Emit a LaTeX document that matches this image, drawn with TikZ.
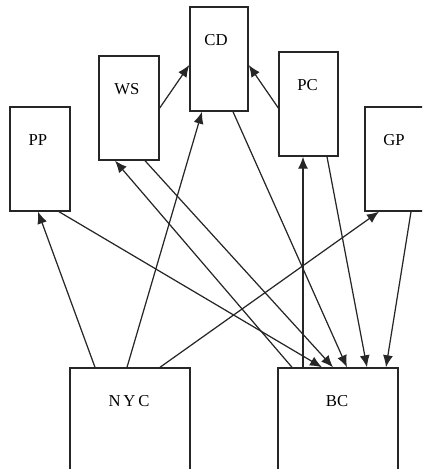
\documentclass[tikz,border=0pt]{standalone}
\usepackage{fontspec}
\setmainfont{Liberation Serif}
\usetikzlibrary{arrows.meta,calc}

\begin{document}
\begin{tikzpicture}[x=0.02cm,y=-0.02cm]
% Styles (MODIFIABLES)
\tikzstyle{fleche}=[-{Latex[length=2.4mm,width=2mm]},line width=0.7pt,draw=black!85]
\tikzstyle{boite}=[draw=black!85,line width=0.8pt,rectangle,inner sep=0pt,minimum width=60*0.02cm,minimum height=104*0.02cm]
\tikzstyle{large}=[minimum width=120*0.02cm]
\tikzstyle{etiquette}=[font=\fontsize{9.5}{11}\selectfont,inner sep=0pt]
% Dimensions (MODIFIABLES)
\def\DecalageEtiquette{34}
% Cadre
\useasboundingbox (0,0) rectangle (422,469);
\clip (0,0) rectangle (422,469);
% Noeuds (MODIFIABLES : Styles et positions)
\node[boite] (PP) at (40,159) {};
\node[boite] (WS) at (129,108) {};
\node[boite,minimum width=58*0.02cm] (CD) at (219,59) {};
\node[boite,minimum width=59*0.02cm] (PC) at (308.5,104) {};
\node[boite] (GP) at (395,159) {};
\node[boite,large] (NYC) at (130,420) {};
\node[boite,large] (BC) at (338,420) {};
% Etiquettes
\node[etiquette] (PPt) at ($(PP.north)+(-2,\DecalageEtiquette)$) {PP};
\node[etiquette] (WSt) at ($(WS.north)+(-2,\DecalageEtiquette)$) {WS};
\node[etiquette] (CDt) at ($(CD.north)+(-3,\DecalageEtiquette)$) {CD};
\node[etiquette] (PCt) at ($(PC.north)+(-1,\DecalageEtiquette)$) {PC};
\node[etiquette] (GPt) at ($(GP.north)+(-1,\DecalageEtiquette)$) {GP};
\node[etiquette] (NYCt) at ($(NYC.north)+(-1,\DecalageEtiquette)$) {N\,Y\,C};
\node[etiquette] (BCt) at ($(BC.north)+(-1,\DecalageEtiquette)$) {BC};
% Arcs (MODIFIABLES : Styles)
\draw[fleche] (WS.east)--($(CD.west)+(0,6)$);
\draw[fleche] ($(PC.west)+(0,4)$)--($(CD.east)+(0,6)$);
\draw[fleche] ($(NYC.north)+(-35,0)$)--($(PP.south)+(-2,0)$);
\draw[fleche] ($(NYC.north)+(-3,0)$)--($(CD.south)+(-17,0)$);
\draw[fleche] ($(NYC.north)+(30,0)$)--($(GP.south)+(-16,0)$);
\draw[fleche] ($(BC.north)+(-46,0)$)--($(WS.south)+(-14,0)$);
\draw[fleche] ($(BC.north)+(-35,0)$)--($(PC.south)+(-5.5,0)$);
\draw[fleche] ($(PP.south)+(19,0)$)--($(BC.north)+(-16,0)$);
\draw[fleche] ($(WS.south)+(16,0)$)--($(BC.north)+(-5,0)$);
\draw[fleche] ($(CD.south)+(14,0)$)--($(BC.north)+(9,0)$);
\draw[fleche] ($(PC.south)+(18.5,0)$)--($(BC.north)+(29,0)$);
\draw[fleche] ($(GP.south)+(16,0)$)--($(BC.north)+(48,0)$);
\end{tikzpicture}
\end{document}
